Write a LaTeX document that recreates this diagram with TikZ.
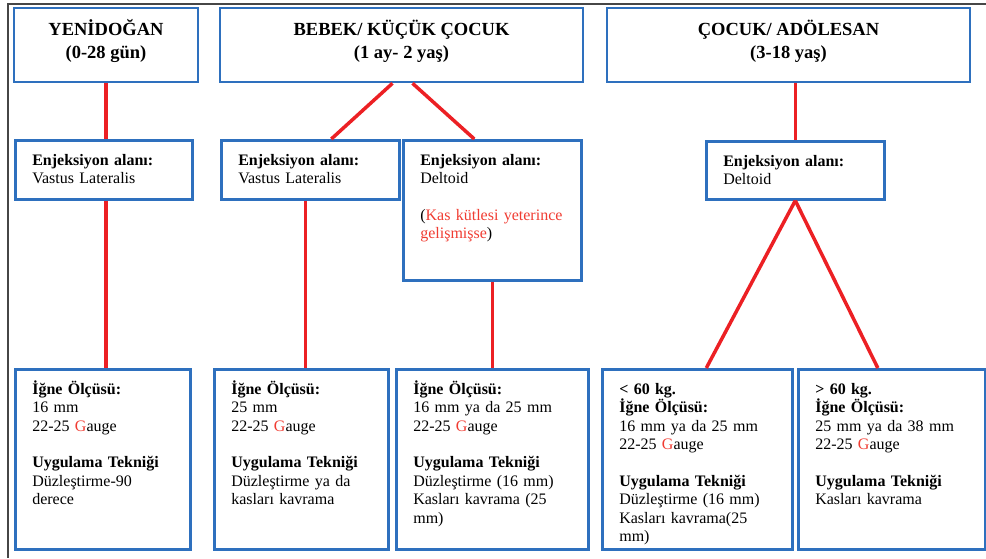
\documentclass[tikz,border=0pt]{standalone}
\usepackage{fontspec}
\setmainfont{Liberation Serif}
\usetikzlibrary{calc}
\definecolor{boxblue}{RGB}{46,112,190}
\definecolor{linkred}{RGB}{236,32,36}
\definecolor{notered}{RGB}{240,60,50}
\definecolor{framegray}{RGB}{70,70,70}
\newcommand{\gauge}{\textcolor{notered}{G}auge}
\newcommand{\blankline}{\\[\baselineskip]}

\begin{document}
\begin{tikzpicture}[x=1pt, y=-1pt,
    agebox/.style={draw=boxblue, line width=2.6pt, minimum width=#1, minimum height=74pt,
        inner sep=0pt, align=center, text height=40pt, text depth=14pt,
        font=\fontsize{18.5}{23}\selectfont\bfseries},
    infobox/.style 2 args={draw=boxblue, line width=2.6pt, anchor=north west, align=left,
        inner xsep=17pt, inner ysep=0pt, text width=#1, text height=25pt, text depth=#2,
        font=\fontsize{16}{18.4}\selectfont},
    link/.style={draw=linkred, line width=3.5pt}]
    \useasboundingbox (0, 0) rectangle (986, 558);
    \draw[framegray, line width=1.2pt] (986, 4) -- (8, 4) -- (8, 558);

    \node (newborn) [agebox=184pt] at (106, 45) {YENİDOĞAN\\(0-28 gün)};
    \node (infant) [agebox=363pt] at (401.5, 45) {BEBEK/ KÜÇÜK ÇOCUK\\(1 ay- 2 yaş)};
    \node (child) [agebox=363pt] at (788.5, 45) {ÇOCUK/ ADÖLESAN\\(3-18 yaş)};

    \node (site1) [infobox={143pt}{34pt}] at (14, 139) {\textbf{Enjeksiyon alanı:}\\Vastus Lateralis};
    \node (site2) [infobox={144pt}{34pt}] at (220, 139) {\textbf{Enjeksiyon alanı:}\\Vastus Lateralis};
    \node (site3) [infobox={144pt}{115pt}] at (402, 139) {\textbf{Enjeksiyon alanı:}\\Deltoid\blankline
        (\textcolor{notered}{Kas kütlesi yeterince}\\\textcolor{notered}{gelişmişse})};
    \node (site4) [infobox={144pt}{33pt}] at (705, 140) {\textbf{Enjeksiyon alanı:}\\Deltoid};

    \node (n1) [infobox={141pt}{155pt}] at (14, 368) {\textbf{İğne Ölçüsü:}\\16 mm\\22-25 \gauge\blankline
        \textbf{Uygulama Tekniği}\\Düzleştirme-90\\derece};
    \node (n2) [infobox={140pt}{155pt}] at (213, 368) {\textbf{İğne Ölçüsü:}\\25 mm\\22-25 \gauge\blankline
        \textbf{Uygulama Tekniği}\\Düzleştirme ya da\\kasları kavrama};
    \node (n3) [infobox={158pt}{155pt}] at (395, 368) {\textbf{İğne Ölçüsü:}\\16 mm ya da 25 mm\\22-25 \gauge\blankline
        \textbf{Uygulama Tekniği}\\Düzleştirme (16 mm)\\Kasları kavrama (25\\mm)};
    \node (n4) [infobox={156pt}{155pt}] at (601, 368) {\textbf{< 60 kg.}\\\textbf{İğne Ölçüsü:}\\16 mm ya da 25 mm\\22-25 \gauge\blankline
        \textbf{Uygulama Tekniği}\\Düzleştirme (16 mm)\\Kasları kavrama(25\\mm)};
    \node (n5) [infobox={153pt}{155pt}] at (797, 368) {\textbf{> 60 kg.}\\\textbf{İğne Ölçüsü:}\\25 mm ya da 38 mm\\22-25 \gauge\blankline
        \textbf{Uygulama Tekniği}\\Kasları kavrama};

    \draw[link] (newborn.south) -- (newborn.south |- site1.north);
    \draw[link] (newborn.south |- site1.south) -- (newborn.south |- n1.north);
    \draw[link] ($(infant.south)+(-9, 0)$) -- ($(site2.north)+(21, 0)$);
    \draw[link] ($(infant.south)+(11, 0)$) -- ($(site3.north)+(-18, 0)$);
    \draw[link] ($(site2.south)+(-5, 0)$) -- ($(n2.north)+(4, 0)$);
    \draw[link] (site3.south) -- (site3.south |- n3.north);
    \draw[link] (child.south -| site4.north) -- (site4.north);
    \draw[link] (site4.south) -- ($(n4.north)+(9, 0)$);
    \draw[link] (site4.south) -- ($(n5.north)+(-14, 0)$);
\end{tikzpicture}
\end{document}
